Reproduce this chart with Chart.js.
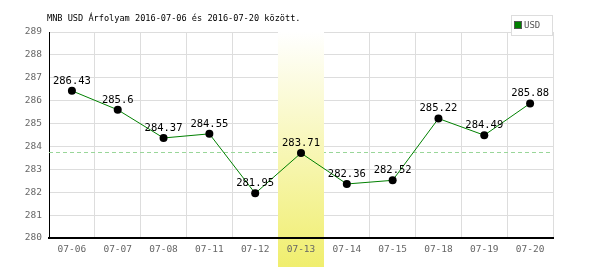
<!DOCTYPE html>
<html>
<head>
<meta charset="utf-8">
<script src="https://cdn.jsdelivr.net/npm/chart.js@4/dist/chart.umd.min.js"></script>
<style>
  html, body { margin: 0; padding: 0; background: #fff; }
  #wrap { position: relative; width: 600px; height: 270px; }
</style>
</head>
<body>
<div id="wrap"><canvas id="chart"></canvas></div>
<script>
// values
const dates = ["07-06", "07-07", "07-08", "07-11", "07-12", "07-13", "07-14", "07-15", "07-18", "07-19", "07-20"];
const usdRates = [286.43, 285.6, 284.37, 284.55, 281.95, 283.71, 282.36, 282.52, 285.22, 284.49, 285.88];
const averageRate = 283.75;
const highlightDate = "07-13";
const yMin = 280;
const yMax = 289;

const MONO = "'DejaVu Sans Mono', monospace";

// yellow column behind the highlighted day, plus the dashed average line
const highlightPlugin = {
  id: "highlight",
  beforeDatasetsDraw(chart) {
    const { ctx, chartArea, scales } = chart;
    const x = scales.x;
    const y = scales.y;

    // dashed average line
    const ay = Math.round(y.getPixelForValue(averageRate)) + 0.5;
    ctx.save();
    ctx.strokeStyle = "#99d699";
    ctx.lineWidth = 1;
    ctx.setLineDash([4, 3]);
    ctx.beginPath();
    ctx.moveTo(chartArea.left, ay);
    ctx.lineTo(chartArea.right, ay);
    ctx.stroke();
    ctx.restore();

    // highlight band
    const idx = dates.indexOf(highlightDate);
    const half = (x.getPixelForValue(1) - x.getPixelForValue(0)) / 2;
    const cx = x.getPixelForValue(idx);
    const top = chartArea.top;
    const bottom = chart.height - 3;
    const grad = ctx.createLinearGradient(0, top, 0, bottom);
    grad.addColorStop(0, "#ffffff");
    grad.addColorStop(1, "#f0ee6e");
    ctx.save();
    ctx.fillStyle = grad;
    ctx.fillRect(Math.round(cx - half), top, Math.round(half * 2), bottom - top);
    ctx.restore();
  },
};

// value labels above the points, title and the small legend box
const labelsPlugin = {
  id: "labels",
  afterDatasetsDraw(chart) {
    const { ctx } = chart;
    const meta = chart.getDatasetMeta(0);
    ctx.save();
    ctx.font = "10.5px " + MONO;
    ctx.fillStyle = "#000";
    ctx.textAlign = "center";
    ctx.textBaseline = "middle";
    meta.data.forEach((pt, i) => {
      ctx.fillText(String(usdRates[i]), pt.x, pt.y - 10);
    });
    ctx.restore();
  },
  afterDraw(chart) {
    const { ctx } = chart;
    ctx.save();
    // title
    ctx.font = "8.6px " + MONO;
    ctx.fillStyle = "#000";
    ctx.textAlign = "left";
    ctx.textBaseline = "middle";
    ctx.fillText("MNB USD Árfolyam 2016-07-06 és 2016-07-20 között.", 47, 19);

    // legend
    ctx.fillStyle = "#fff";
    ctx.fillRect(511, 15, 41, 20);
    ctx.strokeStyle = "#dddddd";
    ctx.lineWidth = 1;
    ctx.strokeRect(511.5, 15.5, 41, 20);
    ctx.fillStyle = "#008000";
    ctx.fillRect(515, 22, 6, 6);
    ctx.strokeStyle = "#555";
    ctx.strokeRect(514.5, 21.5, 7, 7);
    ctx.font = "9px " + MONO;
    ctx.fillStyle = "#555";
    ctx.fillText("USD", 524, 25.5);
    ctx.restore();
  },
};

new Chart(document.getElementById("chart"), {
  type: "line",
  data: {
    labels: dates,
    datasets: [{
      label: "USD",
      data: usdRates,
      borderColor: "#008000",
      borderWidth: 1,
      pointBackgroundColor: "#000",
      pointBorderColor: "#000",
      pointRadius: 4,
      pointBorderWidth: 0,
      tension: 0,
    }],
  },
  options: {
    responsive: true,
    maintainAspectRatio: false,
    animation: false,
    events: [],
    layout: { padding: { top: 32, right: 47, left: 0, bottom: 0 } },
    plugins: {
      legend: { display: false },
      title: { display: false },
      tooltip: { enabled: false },
    },
    scales: {
      x: {
        offset: true,
        afterFit(scale) { scale.height = 32; },
        grid: { color: "#dddddd", lineWidth: 1, offset: true, drawTicks: false },
        border: { color: "#000", width: 2, z: 1 },
        ticks: {
          z: 1,
          padding: 6,
          color: "#666",
          font: { family: MONO, size: 9.5 },
          maxRotation: 0,
          autoSkip: false,
        },
      },
      y: {
        min: yMin,
        max: yMax,
        afterFit(scale) { scale.width = 49; },
        grid: { color: "#dddddd", lineWidth: 1, drawTicks: false },
        border: { color: "#000", width: 1 },
        ticks: {
          stepSize: 1,
          padding: 7,
          color: "#666",
          font: { family: MONO, size: 9.5 },
        },
      },
    },
  },
  plugins: [highlightPlugin, labelsPlugin],
});
</script>
</body>
</html>
